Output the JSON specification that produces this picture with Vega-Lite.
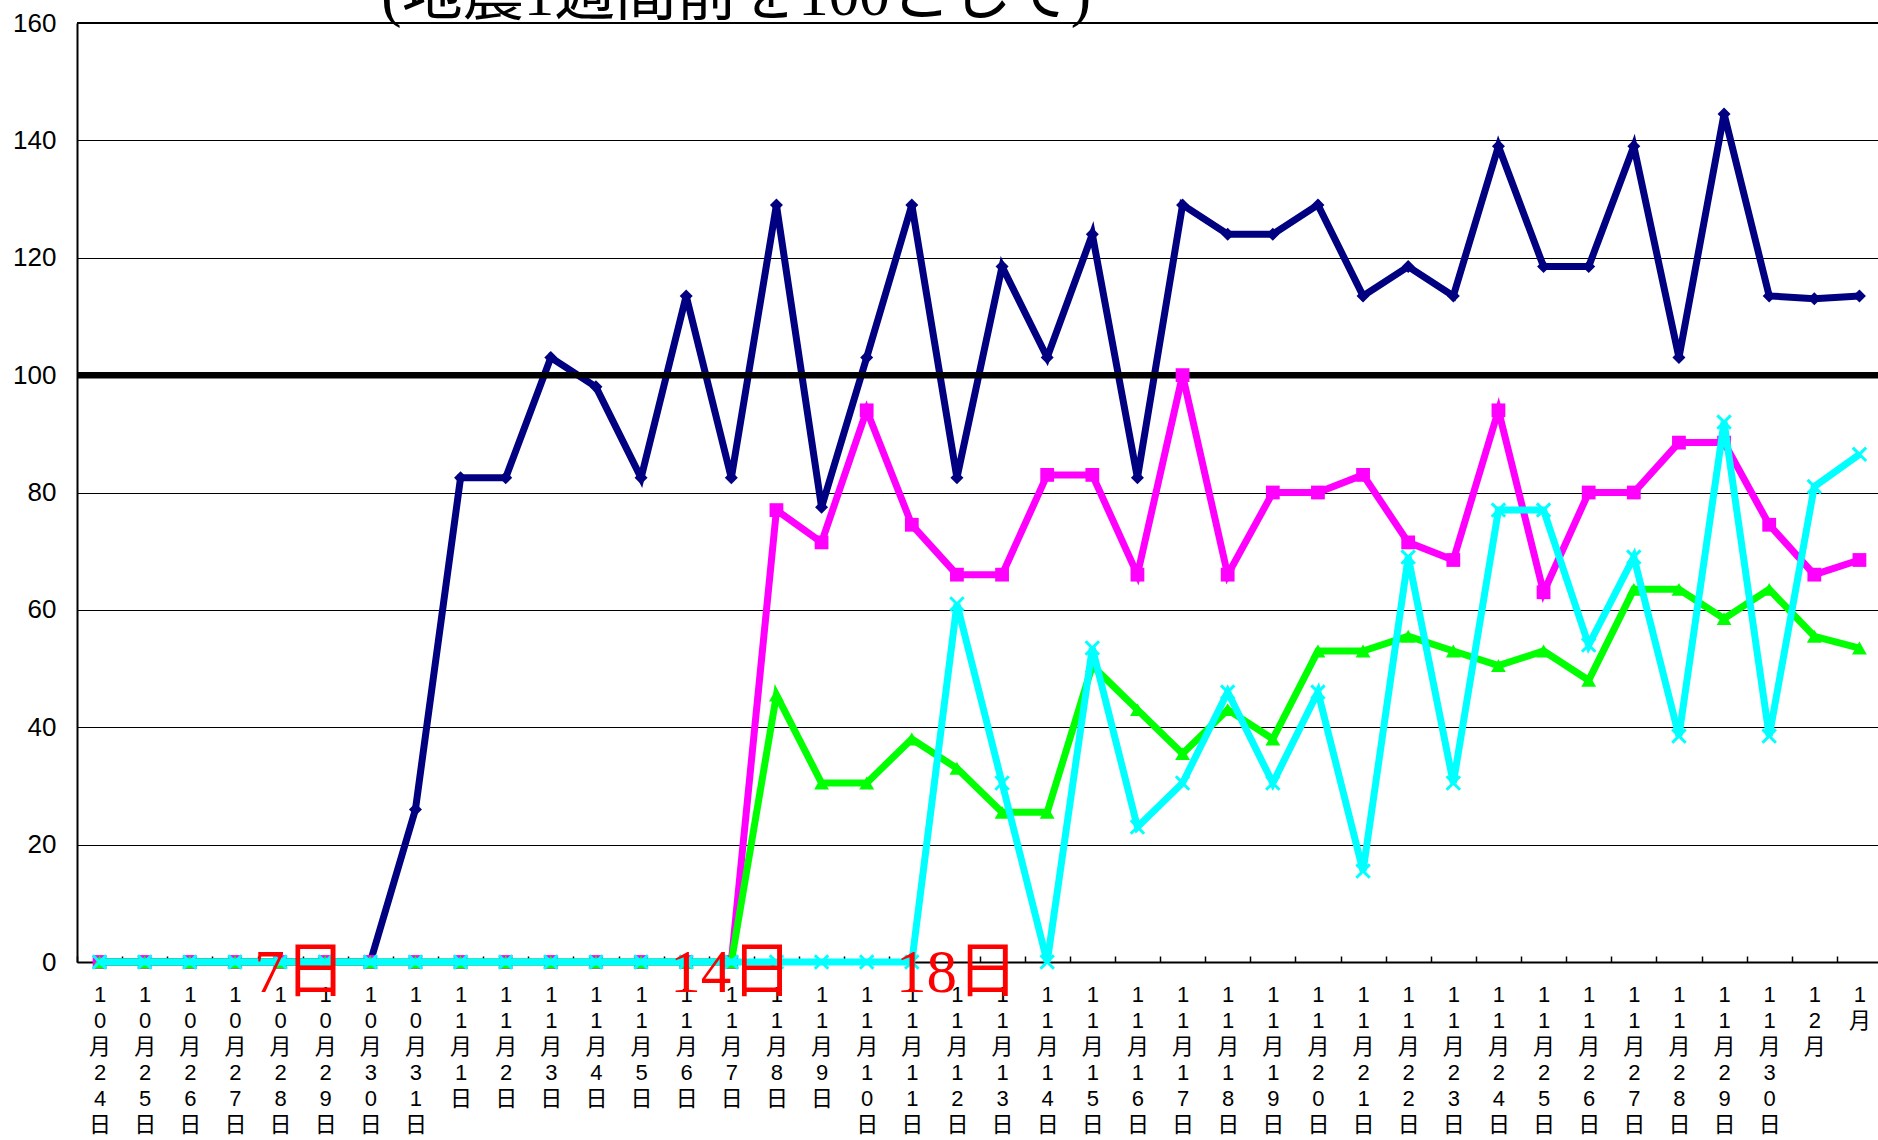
{
  "$schema": "https://vega.github.io/schema/vega-lite/v6.json",
  "autosize": {"type": "none"},
  "padding": {"left": 77, "top": 23, "right": 0, "bottom": 178},
  "width": 1805,
  "height": 939,
  "background": "white",
  "config": {
    "view": {"stroke": null},
    "axis": {"zindex": 0}
  },
  "data": {
    "values": [
      {"d": "10月24日", "a": 0, "b": 0, "c": 0, "e": 0},
      {"d": "10月25日", "a": 0, "b": 0, "c": 0, "e": 0},
      {"d": "10月26日", "a": 0, "b": 0, "c": 0, "e": 0},
      {"d": "10月27日", "a": 0, "b": 0, "c": 0, "e": 0},
      {"d": "10月28日", "a": 0, "b": 0, "c": 0, "e": 0, "note": "7日"},
      {"d": "10月29日", "a": 0, "b": 0, "c": 0, "e": 0},
      {"d": "10月30日", "a": 0, "b": 0, "c": 0, "e": 0, "title": "(地震1週間前を100として)"},
      {"d": "10月31日", "a": 26, "b": 0, "c": 0, "e": 0},
      {"d": "11月1日", "a": 82.5, "b": 0, "c": 0, "e": 0},
      {"d": "11月2日", "a": 82.5, "b": 0, "c": 0, "e": 0},
      {"d": "11月3日", "a": 103, "b": 0, "c": 0, "e": 0},
      {"d": "11月4日", "a": 98, "b": 0, "c": 0, "e": 0},
      {"d": "11月5日", "a": 82.5, "b": 0, "c": 0, "e": 0},
      {"d": "11月6日", "a": 113.5, "b": 0, "c": 0, "e": 0},
      {"d": "11月7日", "a": 82.5, "b": 0, "c": 0, "e": 0, "note": "14日"},
      {"d": "11月8日", "a": 129, "b": 77, "c": 45.5, "e": 0},
      {"d": "11月9日", "a": 77.5, "b": 71.5, "c": 30.5, "e": 0},
      {"d": "11月10日", "a": 103, "b": 94, "c": 30.5, "e": 0},
      {"d": "11月11日", "a": 129, "b": 74.5, "c": 38, "e": 0},
      {"d": "11月12日", "a": 82.5, "b": 66, "c": 33, "e": 61, "note": "18日"},
      {"d": "11月13日", "a": 118.5, "b": 66, "c": 25.5, "e": 30.5},
      {"d": "11月14日", "a": 103, "b": 83, "c": 25.5, "e": 0},
      {"d": "11月15日", "a": 124, "b": 83, "c": 50.5, "e": 53.5},
      {"d": "11月16日", "a": 82.5, "b": 66, "c": 43, "e": 23},
      {"d": "11月17日", "a": 129, "b": 100, "c": 35.5, "e": 30.5},
      {"d": "11月18日", "a": 124, "b": 66, "c": 43, "e": 46},
      {"d": "11月19日", "a": 124, "b": 80, "c": 38, "e": 30.5},
      {"d": "11月20日", "a": 129, "b": 80, "c": 53, "e": 46},
      {"d": "11月21日", "a": 113.5, "b": 83, "c": 53, "e": 15.5},
      {"d": "11月22日", "a": 118.5, "b": 71.5, "c": 55.5, "e": 69},
      {"d": "11月23日", "a": 113.5, "b": 68.5, "c": 53, "e": 30.5},
      {"d": "11月24日", "a": 139, "b": 94, "c": 50.5, "e": 77},
      {"d": "11月25日", "a": 118.5, "b": 63, "c": 53, "e": 77},
      {"d": "11月26日", "a": 118.5, "b": 80, "c": 48, "e": 54},
      {"d": "11月27日", "a": 139, "b": 80, "c": 63.5, "e": 69},
      {"d": "11月28日", "a": 103, "b": 88.5, "c": 63.5, "e": 38.5},
      {"d": "11月29日", "a": 144.5, "b": 88.5, "c": 58.5, "e": 92},
      {"d": "11月30日", "a": 113.5, "b": 74.5, "c": 63.5, "e": 38.5},
      {"d": "12月", "a": 113, "b": 66, "c": 55.5, "e": 81},
      {"d": "1月", "a": 113.5, "b": 68.5, "c": 53.5, "e": 86.5}
    ]
  },
  "encoding": {
    "x": {
      "field": "d",
      "type": "ordinal",
      "sort": null,
      "scale": {"type": "band", "paddingInner": 0, "paddingOuter": 0},
      "axis": {
        "title": null,
        "domain": true,
        "domainColor": "black",
        "domainWidth": 2,
        "ticks": true,
        "tickBand": "extent",
        "tickSize": -6,
        "tickColor": "black",
        "tickWidth": 1.5,
        "grid": false,
        "labelAngle": 0,
        "labelExpr": "split(datum.label, '')",
        "labelFont": "Liberation Sans, Noto Sans CJK JP",
        "labelFontSize": 22,
        "labelLineHeight": 26,
        "labelColor": "black",
        "labelBaseline": "top",
        "labelPadding": 28,
        "labelOverlap": false,
        "labelBound": false,
        "labelFlush": false
      }
    }
  },
  "layer": [
    {
      "mark": {"type": "line", "color": "#000080", "strokeWidth": 7, "point": {"shape": "diamond", "size": 170, "filled": true, "color": "#000080"}},
      "encoding": {
        "y": {
          "field": "a",
          "type": "quantitative",
          "scale": {"domain": [0, 160], "nice": false, "zero": true},
          "axis": {
            "title": null,
            "values": [0, 20, 40, 60, 80, 100, 120, 140, 160],
            "domain": true,
            "domainColor": "black",
            "domainWidth": 2,
            "ticks": false,
            "grid": true,
            "gridColor": "black",
            "gridWidth": 1,
            "gridOpacity": 1,
            "labelFont": "Liberation Sans",
            "labelFontSize": 26,
            "labelColor": "black",
            "labelPadding": 21
          }
        }
      }
    },
    {
      "data": {"values": [{}]},
      "mark": {"type": "rule", "color": "black", "strokeWidth": 6.5},
      "encoding": {"x": {"value": 0}, "x2": {"value": "width"}, "y": {"datum": 100}}
    },
    {
      "mark": {"type": "line", "color": "#FF00FF", "strokeWidth": 7, "point": {"shape": "square", "size": 190, "filled": true, "color": "#FF00FF"}},
      "encoding": {"y": {"field": "b", "type": "quantitative"}}
    },
    {
      "mark": {"type": "line", "color": "#00FF00", "strokeWidth": 7, "point": {"shape": "triangle-up", "size": 220, "filled": true, "color": "#00FF00"}},
      "encoding": {"y": {"field": "c", "type": "quantitative"}}
    },
    {
      "mark": {"type": "line", "color": "#00FFFF", "strokeWidth": 7, "point": {"shape": "M-1,-1L1,1M1,-1L-1,1", "size": 180, "filled": false, "strokeWidth": 3, "color": "#00FFFF"}},
      "encoding": {"y": {"field": "e", "type": "quantitative"}}
    },
    {
      "data": {"values": [{}]},
      "mark": {"type": "rule", "color": "black", "strokeWidth": 2},
      "encoding": {"x": {"value": 0}, "x2": {"value": "width"}, "y": {"datum": 160}}
    },
    {
      "transform": [{"filter": "datum.title != null"}],
      "mark": {"type": "text", "color": "black", "font": "Liberation Serif, Noto Sans CJK JP", "fontSize": 61, "baseline": "alphabetic", "align": "left", "dx": 11, "dy": -8},
      "encoding": {"y": {"datum": 160}, "text": {"field": "title"}}
    },
    {
      "transform": [{"filter": "datum.note == '7日'"}],
      "mark": {"type": "text", "color": "#FF0000", "font": "Liberation Serif, Noto Sans CJK JP", "fontSize": 61, "baseline": "middle", "align": "center", "dx": 20, "dy": 12},
      "encoding": {"y": {"datum": 0}, "text": {"field": "note"}}
    },
    {
      "transform": [{"filter": "datum.note == '14日' || datum.note == '18日'"}],
      "mark": {"type": "text", "color": "#FF0000", "font": "Liberation Serif, Noto Sans CJK JP", "fontSize": 61, "baseline": "middle", "align": "center", "dy": 12},
      "encoding": {"y": {"datum": 0}, "text": {"field": "note"}}
    }
  ]
}
